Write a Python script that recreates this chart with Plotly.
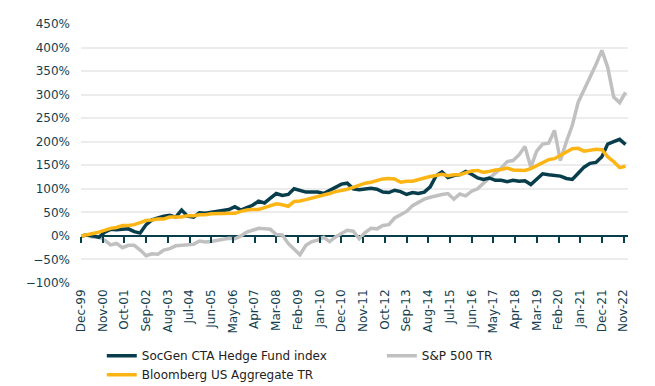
import pandas as pd
import plotly.graph_objects as go

# Quarterly observation dates (Dec-1999 .. Dec-2022)
dates = pd.date_range("1999-12-01", periods=93, freq="3MS")

socgen_cta = [0, 2, 0, -3, 8, 14, 13, 14, 15, 9, 6, 24, 34, 38, 42, 44, 40, 55, 42, 40,
              49, 48, 50, 52, 55, 56, 62, 55, 60, 65, 74, 70, 80, 90, 86, 88, 100, 97, 93, 93,
              93, 90, 97, 105, 110, 112, 100, 98, 100, 101, 99, 93, 92, 97, 94, 88, 92, 90, 93, 104,
              128, 136, 124, 128, 130, 137, 131, 123, 120, 123, 118, 118, 115, 118, 116, 117, 109, 120, 132, 130,
              128, 127, 122, 120, 133, 146, 154, 156, 168, 195, 200, 205, 194]

sp500_tr = [0, 2, -3, -2, -9, -19, -16, -25, -20, -20, -30, -42, -38, -39, -30, -27, -21, -20, -19, -18,
            -11, -13, -12, -10, -7, -5, -6, 0, 8, 12, 16, 15, 14, 3, 2, -16, -28, -40, -20, -12,
            -9, -3, -12, -2, 5, 12, 10, -6, 7, 16, 15, 22, 24, 38, 45, 52, 64, 72, 78, 82,
            86, 88, 90, 78, 89, 85, 95, 100, 112, 122, 132, 144, 158, 160, 172, 190, 146, 180, 195, 197,
            224, 160, 200, 235, 284, 310, 338, 364, 394, 358, 295, 283, 305]

us_agg_tr = [0, 2, 5, 8, 12, 16, 18, 22, 22, 24, 28, 33, 34, 36, 36, 40, 40, 40, 43, 43,
             45, 45, 47, 47, 48, 47, 48, 52, 55, 56, 56, 60, 64, 68, 66, 63, 73, 74, 77, 80,
             83, 86, 90, 94, 96, 99, 103, 108, 112, 114, 118, 121, 122, 121, 114, 116, 116, 120, 123, 126,
             129, 131, 128, 130, 130, 134, 138, 139, 135, 137, 140, 141, 144, 140, 140, 139, 143, 149, 156, 162,
             164, 170, 178, 185, 186, 180, 182, 184, 183, 168, 158, 145, 148]

tick_dates = pd.date_range("1999-12-01", periods=26, freq="11MS")
tick_labels = ["Dec-99", "Nov-00", "Oct-01", "Sep-02", "Aug-03", "Jul-04", "Jun-05", "May-06",
               "Apr-07", "Mar-08", "Feb-09", "Jan-10", "Dec-10", "Nov-11", "Oct-12", "Sep-13",
               "Aug-14", "Jul-15", "Jun-16", "May-17", "Apr-18", "Mar-19", "Feb-20", "Jan-21",
               "Dec-21", "Nov-22"]

series_names = ["SocGen CTA Hedge Fund index", "S&P 500 TR", "Bloomberg US Aggregate TR"]

DARK = "#083d4b"
GREY = "#c0c0c0"
GOLD = "#fdb515"
TEXT = "#143f4f"
FONT = "DejaVu Sans"

fig = go.Figure()
fig.add_trace(go.Scatter(x=dates, y=sp500_tr, name=series_names[1], mode="lines",
                         line=dict(color=GREY, width=3.5), legend="legend2"))
fig.add_trace(go.Scatter(x=dates, y=socgen_cta, name=series_names[0], mode="lines",
                         line=dict(color=DARK, width=3.5), legend="legend", legendrank=1))
fig.add_trace(go.Scatter(x=dates, y=us_agg_tr, name=series_names[2], mode="lines",
                         line=dict(color=GOLD, width=3.5), legend="legend", legendrank=2))
# carrier (no visible marks) so the zero-line tick axis is rendered
fig.add_trace(go.Scatter(x=dates[:1], y=[None], xaxis="x2", yaxis="y", mode="lines",
                         showlegend=False, hoverinfo="skip"))

x_range = ["1999-12-01", "2023-01-08"]
y_min, y_max = -100, 450

legend_style = dict(
    orientation="v", xanchor="left", y=-0.225, yanchor="top",
    tracegroupgap=0, itemwidth=30, traceorder="normal",
    font=dict(family=FONT, size=12, color="#222222"),
    bgcolor="rgba(0,0,0,0)",
)

fig.update_layout(
    width=647, height=378,
    margin=dict(l=73, r=27, t=16, b=103, autoexpand=False),
    paper_bgcolor="white", plot_bgcolor="white",
    font=dict(family=FONT, size=12, color=TEXT),
    xaxis=dict(
        type="date", range=x_range, automargin=False,
        tickmode="array", tickvals=tick_dates, ticktext=tick_labels,
        tickangle=-90, showgrid=False, zeroline=False, showline=False,
        ticks="", ticklabelstandoff=3, tickfont=dict(family=FONT, size=12, color=TEXT),
    ),
    xaxis2=dict(
        type="date", matches="x", overlaying="x", anchor="free", automargin=False,
        position=(0 - y_min) / (y_max - y_min),
        tickmode="array", tickvals=tick_dates, showticklabels=False,
        ticks="outside", ticklen=6, tickwidth=2, tickcolor=DARK,
        showgrid=False, zeroline=False, showline=False,
    ),
    yaxis=dict(
        range=[y_min, y_max], dtick=50, ticksuffix="%", automargin=False,
        showgrid=True, gridcolor="#ececec", gridwidth=2,
        zeroline=True, zerolinecolor=DARK, zerolinewidth=2,
        showline=False, ticks="", ticklabelstandoff=10,
        tickfont=dict(family=FONT, size=12, color=TEXT),
    ),
    legend=dict(x=0.038, **legend_style),
    legend2=dict(x=0.550, **legend_style),
    showlegend=True,
)

fig.write_html("out.html")
